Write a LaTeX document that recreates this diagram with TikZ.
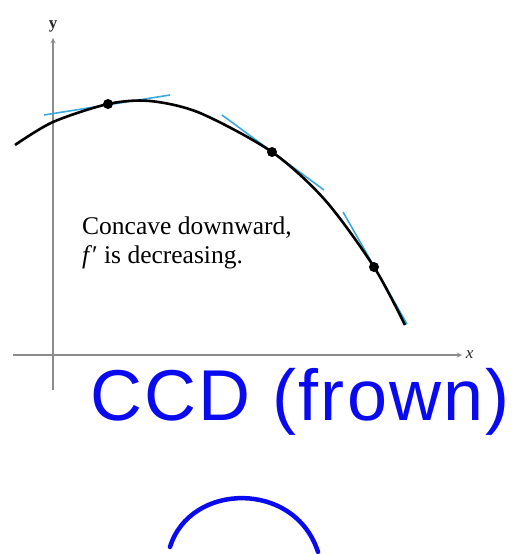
\documentclass[tikz,border=0pt]{standalone}
\usepackage{fontspec}
\setmainfont{Liberation Serif}
\newfontfamily\handfont{Liberation Sans}
\usepackage{amsmath}

\definecolor{tanblue}{RGB}{60,170,225}
\definecolor{penblue}{RGB}{10,10,240}

\begin{document}
\begin{tikzpicture}[x=1pt,y=-1pt]
    \useasboundingbox (0,0) rectangle (522,554);

    % Axes
    \draw[->,>=stealth,color=gray!90,line width=1.3pt] (53,390) -- (53,38) node[above=2pt,text=black!85] (ylabel) {\fontsize{17}{17}\selectfont\textbf{y}};
    \draw[->,>=stealth,color=gray!90,line width=1.3pt] (13,355) -- (462,355) node[right=0pt,text=black!85] (xlabel) {\fontsize{17}{17}\selectfont\textit{x}};

    % Tangent lines
    \draw[tanblue, line width=1.6pt] (44,115) -- (170,95);
    \draw[tanblue, line width=1.6pt] (222,115) -- (324,190);
    \draw[tanblue, line width=1.6pt] (343,212) -- (407,324);

    % The curve
    \draw[black, line width=2.6pt, smooth] plot coordinates {(15,145) (53,122) (108,104) (150,101) (200,113) (272,152) (325,200) (374,267) (405,325)};

    % Points of tangency
    \fill[black] (108,104) circle (5pt);
    \fill[black] (272,152) circle (5pt);
    \fill[black] (374,267) circle (5pt);

    \node[anchor=north west, align=left, inner sep=0pt, font=\fontsize{25.5}{29}\selectfont] (note) at (82,217) {Concave downward,\\\textit{f}′ is decreasing.};

    % Handwritten note
    \node[anchor=west, inner sep=0pt, text=penblue, font=\handfont\fontsize{72}{72}\selectfont\addfontfeature{LetterSpace=3}] (ccd) at (90,402) {CCD (frown)};
    \draw[penblue, line width=4.5pt, line cap=round] (170,547) .. controls (190,482) and (295,480) .. (318,552);
\end{tikzpicture}
\end{document}
